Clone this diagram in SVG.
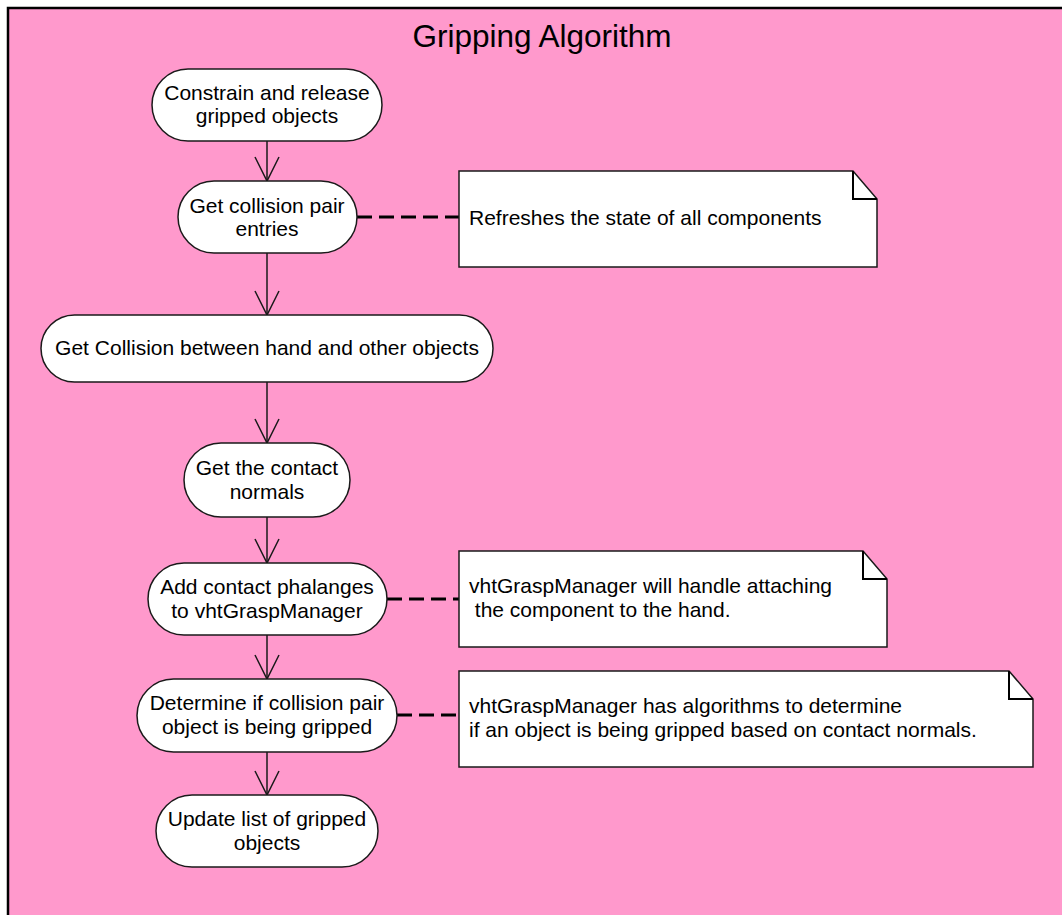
<svg xmlns="http://www.w3.org/2000/svg" width="1062" height="915" viewBox="0 0 1062 915">
  <style>
    .frame { fill: #FF99CC; stroke: #000; stroke-width: 2.5; }
    .title { font-family: "Liberation Sans", Arial, sans-serif; font-size: 31.5px; fill: #000; text-anchor: middle; }
    .act { fill: #fff; stroke: #1a1a1a; stroke-width: 1.5; }
    .lbl { font-family: "Liberation Sans", Arial, sans-serif; font-size: 21px; fill: #000; text-anchor: middle; }
    .note { fill: #fff; stroke: #1a1a1a; stroke-width: 1.5; }
    .fold { fill: none; stroke: #000; stroke-width: 2; }
    .ntxt { font-family: "Liberation Sans", Arial, sans-serif; font-size: 21px; fill: #000; }
    .flow { fill: none; stroke: #1a1a1a; stroke-width: 1.5; marker-end: url(#open); }
    .anchor { fill: none; stroke: #000; stroke-width: 3; stroke-dasharray: 15 7; }
  </style>
  <defs>
    <marker id="open" markerUnits="userSpaceOnUse" markerWidth="30" markerHeight="30" refX="0" refY="0" orient="auto" overflow="visible">
      <path d="M -24 -12 L 0 0 L -24 12" fill="none" stroke="#1a1a1a" stroke-width="1.5"/>
    </marker>
  </defs>

  <rect width="1062" height="915" fill="#fff"/>
  <rect class="frame" x="8" y="8" width="1100" height="960"/>
  <text class="title" x="542" y="47">Gripping Algorithm</text>

  <g id="connectors">
    <line class="flow" x1="267" y1="141" x2="267" y2="181"/>
    <line class="flow" x1="267" y1="253" x2="267" y2="315"/>
    <line class="flow" x1="267" y1="382" x2="267" y2="443"/>
    <line class="flow" x1="267" y1="517" x2="267" y2="563"/>
    <line class="flow" x1="267" y1="635" x2="267" y2="679"/>
    <line class="flow" x1="267" y1="752" x2="267" y2="795"/>
    <line class="anchor" x1="357" y1="217" x2="459" y2="217"/>
    <line class="anchor" x1="387" y1="599" x2="459" y2="599"/>
    <line class="anchor" x1="397" y1="715" x2="459" y2="715"/>
  </g>

  <g id="constrain">
    <rect class="act" x="152" y="69" width="230" height="72" rx="36"/>
    <text class="lbl" x="267" y="100">Constrain and release</text>
    <text class="lbl" x="267" y="123">gripped objects</text>
  </g>

  <g id="get-pairs">
    <rect class="act" x="178" y="181" width="179" height="72" rx="36"/>
    <text class="lbl" x="267" y="213">Get collision pair</text>
    <text class="lbl" x="267" y="236">entries</text>
  </g>

  <g id="get-collision">
    <rect class="act" x="41" y="315" width="452" height="67" rx="33.5"/>
    <text class="lbl" x="267" y="355">Get Collision between hand and other objects</text>
  </g>

  <g id="get-normals">
    <rect class="act" x="184" y="443" width="166" height="74" rx="37"/>
    <text class="lbl" x="267" y="475">Get the contact</text>
    <text class="lbl" x="267" y="499">normals</text>
  </g>

  <g id="add-phalanges">
    <rect class="act" x="148" y="563" width="239" height="72" rx="36"/>
    <text class="lbl" x="267" y="594">Add contact phalanges</text>
    <text class="lbl" x="267" y="618">to vhtGraspManager</text>
  </g>

  <g id="determine">
    <rect class="act" x="137" y="679" width="260" height="73" rx="36.5"/>
    <text class="lbl" x="267" y="710">Determine if collision pair</text>
    <text class="lbl" x="267" y="734">object is being gripped</text>
  </g>

  <g id="update-list">
    <rect class="act" x="156" y="795" width="222" height="72" rx="36"/>
    <text class="lbl" x="267" y="826">Update list of gripped</text>
    <text class="lbl" x="267" y="850">objects</text>
  </g>

  <g id="note-refresh">
    <path class="note" d="M459 171 H853 L877 199 V267 H459 Z"/>
    <path class="fold" d="M853 171 V199 H877"/>
    <text class="ntxt" x="469" y="225">Refreshes the state of all components</text>
  </g>

  <g id="note-attach">
    <path class="note" d="M459 551 H863 L887 579 V647 H459 Z"/>
    <path class="fold" d="M863 551 V579 H887"/>
    <text class="ntxt" x="469" y="593">vhtGraspManager will handle attaching</text>
    <text class="ntxt" x="469" y="617" xml:space="preserve"> the component to the hand.</text>
  </g>

  <g id="note-grip">
    <path class="note" d="M459 671 H1009 L1033 699 V767 H459 Z"/>
    <path class="fold" d="M1009 671 V699 H1033"/>
    <text class="ntxt" x="469" y="713">vhtGraspManager has algorithms to determine</text>
    <text class="ntxt" x="469" y="737">if an object is being gripped based on contact normals.</text>
  </g>
</svg>
